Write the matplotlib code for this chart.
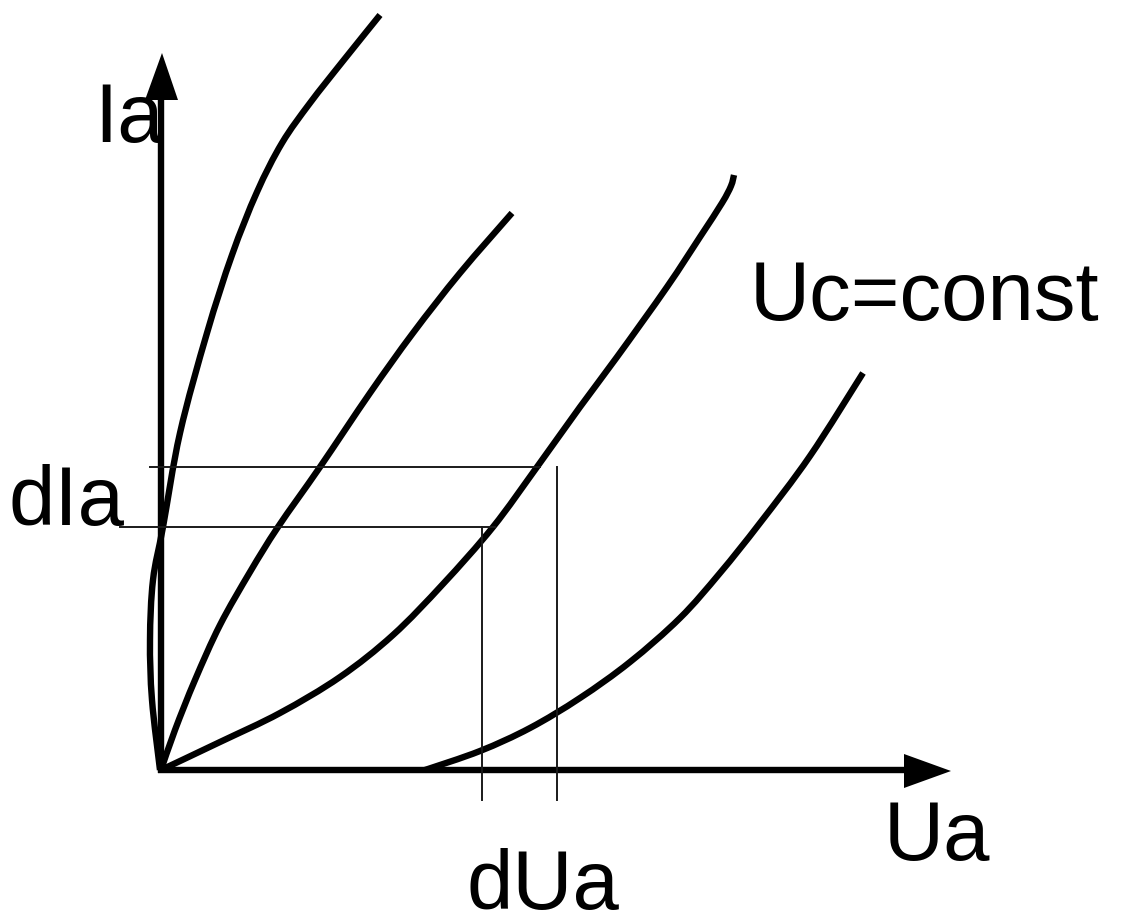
import numpy as np
import matplotlib.pyplot as plt
from matplotlib.path import Path
from matplotlib.patches import PathPatch

plt.rcParams['font.family'] = ['Liberation Sans', 'DejaVu Sans']

# curves Ia(Ua) (pixel units, y downwards)
c1_x = [160, 152, 150, 153, 163, 180, 207, 232, 257, 282, 310, 343, 380]
c1_y = [770, 700, 640, 580, 527, 433, 333, 255, 192, 143, 103, 61, 15]

c2_x = [161, 175, 195, 220, 250, 278, 320, 370, 413, 460, 512]
c2_y = [770, 730, 680, 625, 572, 527, 467, 393, 333, 273, 213]

c3_x = [161, 220, 280, 340, 393, 443, 493, 537, 580, 617, 667, 700, 722, 731, 734]
c3_y = [770, 742, 713, 677, 635, 584, 527, 467, 407, 357, 287, 237, 203, 186, 175]

c4_x = [425, 480, 530, 580, 630, 680, 720, 760, 810, 863]
c4_y = [770, 751, 728, 698, 662, 618, 573, 523, 456, 373]

# dIa / dUa construction
dia_y = [467, 527]
dia_x0 = [150, 120]
dia_x1 = [540, 495]
dua_x = [482, 557]
dua_y0 = [527, 467]
dua_y1 = 800


def smooth_path(xs, ys):
    # Catmull-Rom through the points, drawn as cubic Bezier pieces
    p = np.column_stack([xs, ys]).astype(float)
    p = np.vstack([p[0], p, p[-1]])
    verts = [p[1]]
    codes = [Path.MOVETO]
    for i in range(1, len(p) - 2):
        c1 = p[i] + (p[i + 1] - p[i - 1]) / 6
        c2 = p[i + 1] - (p[i + 2] - p[i]) / 6
        verts += [c1, c2, p[i + 1]]
        codes += [Path.CURVE4] * 3
    return Path(verts, codes)


fig = plt.figure(figsize=(11.22, 9.24), dpi=100)
ax = fig.add_axes([0, 0, 1, 1])
ax.set_xlim(0, 1122)
ax.set_ylim(924, 0)
ax.axis('off')

lw = 4.6
# axes with arrows
ax.plot([161.5, 161.5], [773, 95], color='black', lw=lw, solid_capstyle='butt')
ax.plot([158, 910], [770, 770], color='black', lw=lw, solid_capstyle='butt')
ax.fill([145, 162, 178], [100, 53, 100], color='black', lw=0)
ax.fill([904, 951, 904], [754, 771, 788], color='black', lw=0)

for xs, ys in [(c1_x, c1_y), (c2_x, c2_y), (c3_x, c3_y), (c4_x, c4_y)]:
    ax.add_patch(PathPatch(smooth_path(xs, ys), facecolor='none', edgecolor='black',
                           lw=lw, joinstyle='round', capstyle='butt'))

for y, x0, x1 in zip(dia_y, dia_x0, dia_x1):
    ax.plot([x0, x1], [y, y], color='#1a1a1a', lw=1.4)
for x, y0 in zip(dua_x, dua_y0):
    ax.plot([x, x], [y0, dua_y1], color='#1a1a1a', lw=1.4)

fs = 60
ax.text(94, 142, 'Ia', fontsize=fs, ha='left', va='baseline')
ax.text(750, 320, 'Uc=const', fontsize=fs, ha='left', va='baseline')
ax.text(9, 525, 'dIa', fontsize=fs, ha='left', va='baseline')
ax.text(884, 860, 'Ua', fontsize=fs, ha='left', va='baseline')
ax.text(467, 909, 'dUa', fontsize=fs, ha='left', va='baseline')

fig.savefig('out.png', dpi=100)
